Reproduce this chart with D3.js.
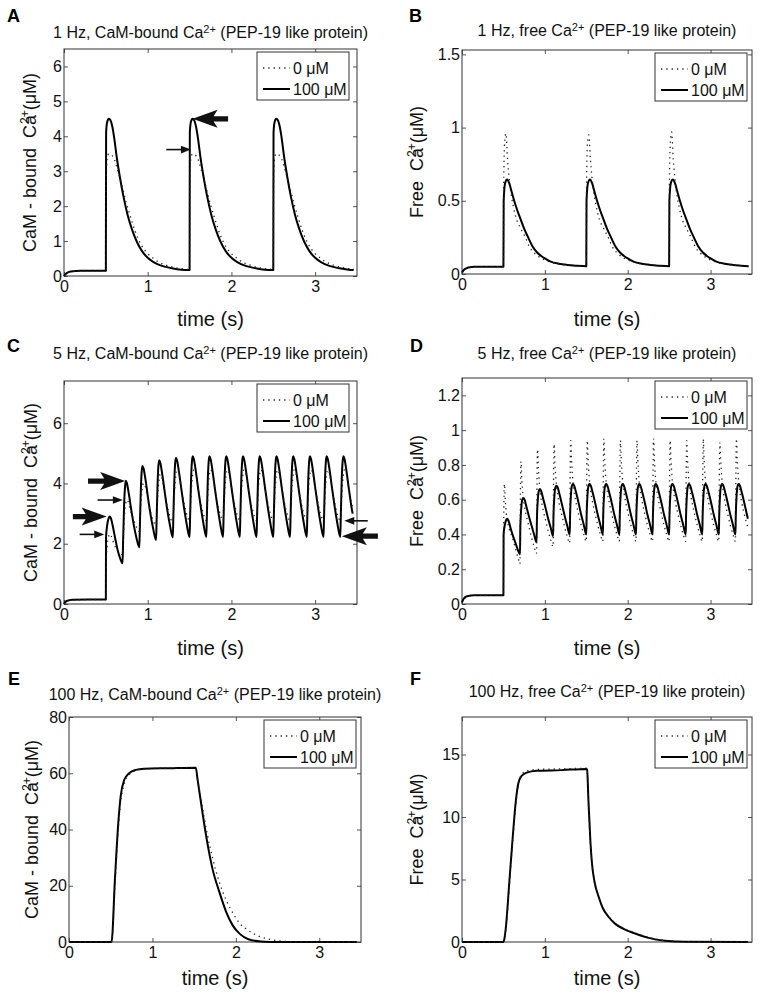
<!DOCTYPE html>
<html>
<head>
<meta charset="utf-8">
<script src="https://cdn.jsdelivr.net/npm/d3@7"></script>
<style>
body { margin: 0; background: #fff; }
svg { font-family: "Liberation Sans", Arial, Helvetica, sans-serif; }
</style>
</head>
<body>
<svg id="fig" width="762" height="1000"></svg>
<script>
// values: [time (s), concentration (uM)]
var xTicks = [0, 1, 2, 3];
var legendNames = ["0 \u03bcM", "100 \u03bcM"];

// A: 1 Hz, CaM-bound
var aDotted = [[0,0],[0.03,0.07],[0.08,0.12],[0.2,0.145],[0.5,0.15],
  [0.503,2.6],[0.515,3.35],[0.535,3.5],[0.56,3.48],[0.6,3.35],[0.63,3.12],[0.69,2.6],[0.75,2.05],[0.8,1.65],[0.85,1.28],[0.92,0.9],[1.0,0.64],[1.07,0.5],[1.13,0.4],[1.21,0.32],[1.31,0.25],[1.4,0.21],[1.5,0.19],
  [1.503,2.6],[1.515,3.35],[1.535,3.5],[1.56,3.48],[1.6,3.35],[1.63,3.12],[1.69,2.6],[1.75,2.05],[1.8,1.65],[1.85,1.28],[1.92,0.9],[2.0,0.64],[2.07,0.5],[2.13,0.4],[2.21,0.32],[2.31,0.25],[2.4,0.21],[2.5,0.19],
  [2.503,2.6],[2.515,3.35],[2.535,3.5],[2.56,3.48],[2.6,3.35],[2.63,3.12],[2.69,2.6],[2.75,2.05],[2.8,1.65],[2.85,1.28],[2.92,0.9],[3.0,0.64],[3.07,0.5],[3.13,0.4],[3.21,0.32],[3.31,0.25],[3.4,0.21],[3.46,0.2]];
var aSolid = [[0,0],[0.03,0.08],[0.08,0.13],[0.2,0.15],[0.5,0.15],
  [0.503,4.1],[0.515,4.4],[0.535,4.5],[0.555,4.46],[0.575,4.3],[0.6,3.95],[0.63,3.4],[0.67,2.8],[0.71,2.28],[0.76,1.75],[0.81,1.35],[0.87,0.98],[0.93,0.72],[1.0,0.52],[1.07,0.4],[1.17,0.29],[1.29,0.22],[1.4,0.18],[1.5,0.17],
  [1.503,4.1],[1.515,4.4],[1.535,4.5],[1.555,4.46],[1.575,4.3],[1.6,3.95],[1.63,3.4],[1.67,2.8],[1.71,2.28],[1.76,1.75],[1.81,1.35],[1.87,0.98],[1.93,0.72],[2.0,0.52],[2.07,0.4],[2.17,0.29],[2.29,0.22],[2.4,0.18],[2.5,0.17],
  [2.503,4.1],[2.515,4.4],[2.535,4.5],[2.555,4.46],[2.575,4.3],[2.6,3.95],[2.63,3.4],[2.67,2.8],[2.71,2.28],[2.76,1.75],[2.81,1.35],[2.87,0.98],[2.93,0.72],[3.0,0.52],[3.07,0.4],[3.17,0.29],[3.29,0.22],[3.4,0.18],[3.46,0.17]];
var aArrows = [[1.96,1.536,4.5,1],[1.222,1.516,3.62,0]]; // [tail t, tip t, value, big]
var aTicks = [0,1,2,3,4,5,6];

// B: 1 Hz, free
var bDotted = [[0,0.005],[0.03,0.028],[0.08,0.043],[0.15,0.05],[0.5,0.05],
  [0.503,0.6],[0.515,0.9],[0.53,0.96],[0.55,0.78],[0.58,0.6],[0.62,0.46],[0.66,0.37],[0.7,0.32],[0.76,0.255],[0.82,0.18],[0.88,0.14],[0.95,0.11],[1.05,0.085],[1.2,0.066],[1.35,0.058],[1.5,0.055],
  [1.503,0.6],[1.515,0.9],[1.53,0.95],[1.55,0.78],[1.58,0.6],[1.62,0.46],[1.66,0.37],[1.7,0.32],[1.76,0.255],[1.82,0.18],[1.88,0.14],[1.95,0.11],[2.05,0.085],[2.2,0.066],[2.35,0.058],[2.5,0.055],
  [2.503,0.6],[2.515,0.9],[2.53,0.97],[2.55,0.78],[2.58,0.6],[2.62,0.46],[2.66,0.37],[2.7,0.32],[2.76,0.255],[2.82,0.18],[2.88,0.14],[2.95,0.11],[3.05,0.085],[3.2,0.066],[3.35,0.058],[3.46,0.055]];
var bSolid = [[0,0.01],[0.03,0.032],[0.08,0.045],[0.15,0.05],[0.5,0.05],
  [0.503,0.5],[0.52,0.62],[0.545,0.645],[0.57,0.62],[0.6,0.56],[0.63,0.5],[0.67,0.43],[0.71,0.37],[0.75,0.31],[0.79,0.26],[0.85,0.19],[0.91,0.145],[0.99,0.11],[1.07,0.085],[1.17,0.07],[1.27,0.062],[1.37,0.057],[1.5,0.053],
  [1.503,0.5],[1.52,0.62],[1.545,0.645],[1.57,0.62],[1.6,0.56],[1.63,0.5],[1.67,0.43],[1.71,0.37],[1.75,0.31],[1.79,0.26],[1.85,0.19],[1.91,0.145],[1.99,0.11],[2.07,0.085],[2.17,0.07],[2.27,0.062],[2.37,0.057],[2.5,0.053],
  [2.503,0.5],[2.52,0.62],[2.545,0.645],[2.57,0.62],[2.6,0.56],[2.63,0.5],[2.67,0.43],[2.71,0.37],[2.75,0.31],[2.79,0.26],[2.85,0.19],[2.91,0.145],[2.99,0.11],[3.07,0.085],[3.17,0.07],[3.27,0.062],[3.37,0.057],[3.46,0.053]];
var bTicks = [0,0.5,1,1.5];

// C: 5 Hz, CaM-bound
var cDotted = [[0,0],[0.03,0.08],[0.1,0.13],[0.3,0.15],[0.5,0.15],
  [0.503,1.2],[0.515,1.9],[0.53,2.2],[0.548,2.32],[0.565,2.25],[0.59,2.05],[0.62,1.85],[0.65,1.73],[0.68,1.66],[0.7,1.63],
  [0.708,2.1],[0.72,2.8],[0.735,3.3],[0.75,3.45],[0.765,3.4],[0.79,3.15],[0.82,2.9],[0.85,2.66],[0.875,2.5],[0.9,2.4],
  [0.908,2.8],[0.92,3.4],[0.935,3.85],[0.95,4.0],[0.965,3.95],[0.99,3.65],[1.02,3.2],[1.05,2.9],[1.075,2.7],[1.1,2.62],
  [1.108,2.95],[1.12,3.6],[1.135,4.1],[1.15,4.3],[1.165,4.25],[1.19,3.9],[1.22,3.42],[1.25,3.05],[1.275,2.82],[1.3,2.72],
  [1.308,3.0],[1.32,3.7],[1.335,4.25],[1.35,4.45],[1.365,4.4],[1.39,4.05],[1.42,3.55],[1.45,3.15],[1.475,2.9],[1.5,2.76],
  [1.508,3.0],[1.52,3.7],[1.535,4.25],[1.55,4.45],[1.565,4.4],[1.59,4.05],[1.62,3.55],[1.65,3.15],[1.675,2.9],[1.7,2.76],
  [1.708,3.0],[1.72,3.7],[1.735,4.25],[1.75,4.45],[1.765,4.4],[1.79,4.05],[1.82,3.55],[1.85,3.15],[1.875,2.9],[1.9,2.76],
  [1.908,3.0],[1.92,3.7],[1.935,4.25],[1.95,4.45],[1.965,4.4],[1.99,4.05],[2.02,3.55],[2.05,3.15],[2.075,2.9],[2.1,2.76],
  [2.108,3.0],[2.12,3.7],[2.135,4.25],[2.15,4.45],[2.165,4.4],[2.19,4.05],[2.22,3.55],[2.25,3.15],[2.275,2.9],[2.3,2.76],
  [2.308,3.0],[2.32,3.7],[2.335,4.25],[2.35,4.45],[2.365,4.4],[2.39,4.05],[2.42,3.55],[2.45,3.15],[2.475,2.9],[2.5,2.76],
  [2.508,3.0],[2.52,3.7],[2.535,4.25],[2.55,4.45],[2.565,4.4],[2.59,4.05],[2.62,3.55],[2.65,3.15],[2.675,2.9],[2.7,2.76],
  [2.708,3.0],[2.72,3.7],[2.735,4.25],[2.75,4.45],[2.765,4.4],[2.79,4.05],[2.82,3.55],[2.85,3.15],[2.875,2.9],[2.9,2.76],
  [2.908,3.0],[2.92,3.7],[2.935,4.25],[2.95,4.45],[2.965,4.4],[2.99,4.05],[3.02,3.55],[3.05,3.15],[3.075,2.9],[3.1,2.76],
  [3.108,3.0],[3.12,3.7],[3.135,4.25],[3.15,4.45],[3.165,4.4],[3.19,4.05],[3.22,3.55],[3.25,3.15],[3.275,2.9],[3.3,2.76],
  [3.308,3.0],[3.32,3.7],[3.335,4.25],[3.35,4.45],[3.365,4.4],[3.39,4.05],[3.42,3.55],[3.448,3.2]];
var cSolid = [[0,0],[0.03,0.1],[0.1,0.14],[0.3,0.15],[0.5,0.15],
  [0.502,2.2],[0.515,2.6],[0.53,2.82],[0.545,2.9],[0.56,2.85],[0.58,2.62],[0.61,2.2],[0.64,1.8],[0.67,1.52],[0.7,1.35],
  [0.706,2.1],[0.718,3.3],[0.728,3.85],[0.738,4.09],[0.75,4.02],[0.775,3.65],[0.805,3.1],[0.835,2.6],[0.865,2.2],[0.9,1.88],
  [0.906,2.55],[0.918,3.8],[0.928,4.4],[0.938,4.58],[0.95,4.5],[0.975,4.1],[1.005,3.5],[1.035,2.95],[1.065,2.5],[1.1,2.12],
  [1.106,2.75],[1.118,4.0],[1.128,4.6],[1.138,4.77],[1.15,4.69],[1.175,4.28],[1.205,3.68],[1.235,3.1],[1.265,2.62],[1.3,2.21],
  [1.306,2.85],[1.318,4.1],[1.328,4.68],[1.338,4.85],[1.35,4.77],[1.375,4.35],[1.405,3.75],[1.435,3.17],[1.465,2.66],[1.5,2.22],
  [1.506,2.85],[1.518,4.15],[1.528,4.72],[1.538,4.9],[1.55,4.82],[1.575,4.4],[1.605,3.78],[1.635,3.2],[1.665,2.68],[1.7,2.22],
  [1.706,2.85],[1.718,4.15],[1.728,4.72],[1.738,4.9],[1.75,4.82],[1.775,4.4],[1.805,3.78],[1.835,3.2],[1.865,2.68],[1.9,2.22],
  [1.906,2.85],[1.918,4.15],[1.928,4.72],[1.938,4.9],[1.95,4.82],[1.975,4.4],[2.005,3.78],[2.035,3.2],[2.065,2.68],[2.1,2.22],
  [2.106,2.85],[2.118,4.15],[2.128,4.72],[2.138,4.9],[2.15,4.82],[2.175,4.4],[2.205,3.78],[2.235,3.2],[2.265,2.68],[2.3,2.22],
  [2.306,2.85],[2.318,4.15],[2.328,4.72],[2.338,4.9],[2.35,4.82],[2.375,4.4],[2.405,3.78],[2.435,3.2],[2.465,2.68],[2.5,2.22],
  [2.506,2.85],[2.518,4.15],[2.528,4.72],[2.538,4.9],[2.55,4.82],[2.575,4.4],[2.605,3.78],[2.635,3.2],[2.665,2.68],[2.7,2.22],
  [2.706,2.85],[2.718,4.15],[2.728,4.72],[2.738,4.9],[2.75,4.82],[2.775,4.4],[2.805,3.78],[2.835,3.2],[2.865,2.68],[2.9,2.22],
  [2.906,2.85],[2.918,4.15],[2.928,4.72],[2.938,4.9],[2.95,4.82],[2.975,4.4],[3.005,3.78],[3.035,3.2],[3.065,2.68],[3.1,2.22],
  [3.106,2.85],[3.118,4.15],[3.128,4.72],[3.138,4.9],[3.15,4.82],[3.175,4.4],[3.205,3.78],[3.235,3.2],[3.265,2.68],[3.3,2.22],
  [3.306,2.85],[3.318,4.15],[3.328,4.72],[3.338,4.9],[3.35,4.82],[3.375,4.4],[3.405,3.78],[3.435,3.2],[3.448,3.0]];
var cArrows = [[0.106,0.51,2.9,1],[0.187,0.481,2.31,0],[0.287,0.731,4.08,1],[0.401,0.703,3.45,0],[3.629,3.348,2.76,0],[3.75,3.319,2.25,1]];
var cTicks = [0,2,4,6];

// D: 5 Hz, free
var dDotted = [[0,0.005],[0.02,0.025],[0.06,0.04],[0.15,0.05],[0.5,0.05],
  [0.503,0.45],[0.512,0.69],[0.522,0.6],[0.535,0.52],[0.55,0.47],[0.57,0.43],[0.61,0.38],[0.65,0.31],[0.68,0.26],[0.7,0.23],
  [0.703,0.5],[0.712,0.82],[0.722,0.72],[0.735,0.63],[0.75,0.57],[0.78,0.5],[0.81,0.44],[0.84,0.38],[0.87,0.33],[0.9,0.29],
  [0.903,0.55],[0.912,0.89],[0.922,0.78],[0.935,0.69],[0.95,0.62],[0.98,0.54],[1.01,0.48],[1.04,0.42],[1.07,0.37],[1.1,0.33],
  [1.103,0.57],[1.112,0.92],[1.122,0.81],[1.135,0.71],[1.15,0.645],[1.18,0.56],[1.21,0.5],[1.24,0.44],[1.27,0.39],[1.3,0.35],
  [1.303,0.58],[1.312,0.94],[1.322,0.83],[1.335,0.73],[1.35,0.66],[1.38,0.575],[1.41,0.51],[1.44,0.45],[1.47,0.4],[1.5,0.36],
  [1.503,0.58],[1.512,0.94],[1.522,0.83],[1.535,0.73],[1.55,0.66],[1.58,0.575],[1.61,0.51],[1.64,0.45],[1.67,0.4],[1.7,0.36],
  [1.703,0.58],[1.712,0.95],[1.722,0.83],[1.735,0.73],[1.75,0.66],[1.78,0.575],[1.81,0.51],[1.84,0.45],[1.87,0.4],[1.9,0.36],
  [1.903,0.58],[1.912,0.94],[1.922,0.83],[1.935,0.73],[1.95,0.66],[1.98,0.575],[2.01,0.51],[2.04,0.45],[2.07,0.4],[2.1,0.36],
  [2.103,0.58],[2.112,0.94],[2.122,0.83],[2.135,0.73],[2.15,0.66],[2.18,0.575],[2.21,0.51],[2.24,0.45],[2.27,0.4],[2.3,0.36],
  [2.303,0.58],[2.312,0.95],[2.322,0.83],[2.335,0.73],[2.35,0.66],[2.38,0.575],[2.41,0.51],[2.44,0.45],[2.47,0.4],[2.5,0.36],
  [2.503,0.58],[2.512,0.94],[2.522,0.83],[2.535,0.73],[2.55,0.66],[2.58,0.575],[2.61,0.51],[2.64,0.45],[2.67,0.4],[2.7,0.36],
  [2.703,0.58],[2.712,0.94],[2.722,0.83],[2.735,0.73],[2.75,0.66],[2.78,0.575],[2.81,0.51],[2.84,0.45],[2.87,0.4],[2.9,0.36],
  [2.903,0.58],[2.912,0.95],[2.922,0.83],[2.935,0.73],[2.95,0.66],[2.98,0.575],[3.01,0.51],[3.04,0.45],[3.07,0.4],[3.1,0.36],
  [3.103,0.58],[3.112,0.93],[3.122,0.83],[3.135,0.73],[3.15,0.66],[3.18,0.575],[3.21,0.51],[3.24,0.45],[3.27,0.4],[3.3,0.36],
  [3.303,0.58],[3.312,0.95],[3.322,0.83],[3.335,0.73],[3.35,0.66],[3.38,0.575],[3.41,0.51],[3.45,0.44]];
var dSolid = [[0,0.01],[0.02,0.03],[0.06,0.045],[0.15,0.05],[0.5,0.05],
  [0.502,0.4],[0.515,0.45],[0.53,0.48],[0.545,0.49],[0.56,0.48],[0.59,0.43],[0.62,0.385],[0.65,0.345],[0.675,0.31],[0.7,0.285],
  [0.704,0.44],[0.715,0.55],[0.727,0.6],[0.74,0.61],[0.755,0.6],[0.78,0.555],[0.81,0.5],[0.84,0.45],[0.87,0.4],[0.9,0.355],
  [0.904,0.48],[0.915,0.6],[0.927,0.65],[0.94,0.66],[0.955,0.65],[0.98,0.605],[1.01,0.55],[1.04,0.49],[1.07,0.44],[1.1,0.39],
  [1.104,0.5],[1.115,0.62],[1.127,0.67],[1.14,0.68],[1.155,0.67],[1.18,0.625],[1.21,0.565],[1.24,0.505],[1.27,0.45],[1.3,0.4],
  [1.304,0.5],[1.315,0.63],[1.327,0.68],[1.34,0.69],[1.355,0.68],[1.38,0.635],[1.41,0.575],[1.44,0.51],[1.47,0.455],[1.5,0.4],
  [1.504,0.5],[1.515,0.63],[1.527,0.68],[1.54,0.69],[1.555,0.68],[1.58,0.635],[1.61,0.575],[1.64,0.51],[1.67,0.455],[1.7,0.4],
  [1.704,0.5],[1.715,0.63],[1.727,0.68],[1.74,0.69],[1.755,0.68],[1.78,0.635],[1.81,0.575],[1.84,0.51],[1.87,0.455],[1.9,0.4],
  [1.904,0.5],[1.915,0.63],[1.927,0.68],[1.94,0.69],[1.955,0.68],[1.98,0.635],[2.01,0.575],[2.04,0.51],[2.07,0.455],[2.1,0.4],
  [2.104,0.5],[2.115,0.63],[2.127,0.68],[2.14,0.69],[2.155,0.68],[2.18,0.635],[2.21,0.575],[2.24,0.51],[2.27,0.455],[2.3,0.4],
  [2.304,0.5],[2.315,0.63],[2.327,0.68],[2.34,0.69],[2.355,0.68],[2.38,0.635],[2.41,0.575],[2.44,0.51],[2.47,0.455],[2.5,0.4],
  [2.504,0.5],[2.515,0.63],[2.527,0.68],[2.54,0.69],[2.555,0.68],[2.58,0.635],[2.61,0.575],[2.64,0.51],[2.67,0.455],[2.7,0.4],
  [2.704,0.5],[2.715,0.63],[2.727,0.68],[2.74,0.69],[2.755,0.68],[2.78,0.635],[2.81,0.575],[2.84,0.51],[2.87,0.455],[2.9,0.4],
  [2.904,0.5],[2.915,0.63],[2.927,0.68],[2.94,0.69],[2.955,0.68],[2.98,0.635],[3.01,0.575],[3.04,0.51],[3.07,0.455],[3.1,0.4],
  [3.104,0.5],[3.115,0.63],[3.127,0.68],[3.14,0.69],[3.155,0.68],[3.18,0.635],[3.21,0.575],[3.24,0.51],[3.27,0.455],[3.3,0.4],
  [3.304,0.5],[3.315,0.63],[3.327,0.68],[3.34,0.69],[3.355,0.68],[3.38,0.635],[3.41,0.575],[3.45,0.49]];
var dTicks = [0,0.2,0.4,0.6,0.8,1,1.2];

// E: 100 Hz, CaM-bound
var eDotted = [[0,0],[0.5,0],[0.51,0],[0.55,20],[0.59,40],[0.62,50],[0.66,56],[0.72,59.5],[0.8,61],[0.9,61.6],[1.2,61.8],[1.52,62],
  [1.54,58],[1.57,53],[1.61,46],[1.66,38],[1.72,30],[1.8,21.5],[1.89,14.5],[1.97,10],[2.05,6.5],[2.13,4.5],[2.21,3],[2.3,1.8],[2.37,1.2],[2.45,0.7],[2.53,0.4],[2.7,0.1],[3.45,0]];
var eSolid = [[0,0],[0.5,0],[0.51,0],[0.55,22],[0.59,42],[0.62,52],[0.66,57.5],[0.72,60],[0.8,61.2],[0.9,61.6],[1.2,61.8],[1.52,62],
  [1.54,58],[1.57,52],[1.61,44],[1.66,35],[1.72,26],[1.8,18],[1.88,11],[1.96,6],[2.05,2.8],[2.15,1.0],[2.3,0.2],[2.5,0],[3.45,0]];
var eTicks = [0,20,40,60,80];

// F: 100 Hz, free
var fDotted = [[0,0],[0.5,0],[0.51,0.2],[0.53,1.0],[0.57,4.4],[0.61,7.9],[0.65,11],[0.68,12.6],[0.72,13.4],[0.78,13.7],[0.9,13.8],[1.2,13.85],[1.5,13.9],
  [1.51,13.8],[1.525,11.3],[1.55,7.8],[1.57,6.1],[1.6,4.8],[1.65,3.6],[1.7,2.75],[1.77,2.05],[1.85,1.5],[1.95,1.1],[2.08,0.75],[2.24,0.4],[2.45,0.12],[2.7,0.03],[3.45,0]];
var fSolid = [[0,0],[0.5,0],[0.51,0.2],[0.53,1.2],[0.57,4.7],[0.61,8.2],[0.65,11.3],[0.68,12.7],[0.72,13.3],[0.78,13.55],[0.9,13.7],[1.2,13.75],[1.5,13.85],
  [1.51,13.8],[1.525,11.5],[1.55,8],[1.57,6.2],[1.6,4.8],[1.65,3.6],[1.7,2.7],[1.77,2.0],[1.85,1.45],[1.95,1.05],[2.08,0.7],[2.24,0.35],[2.45,0.1],[2.7,0.02],[3.45,0]];
var fTicks = [0,5,10,15];

var boundLabel = ["CaM - bound\u00a0\u00a0Ca", "2+", "(\u03bcM)"];
var freeLabel = ["Free\u00a0\u00a0Ca", "2+", "(\u03bcM)"];

var panels = [
  {letter:"A", lx:7, ly:22, title:["1 Hz, CaM-bound Ca","2+"," (PEP-19 like protein)"], ty:38,
   box:{l:64,r:357,t:49,b:276}, yMax:6.5, yt:aTicks, dotted:aDotted, solid:aSolid, arrows:aArrows,
   ylab:boundLabel, yx:36, xy:326, lg:8},
  {letter:"B", lx:409, ly:22, title:["1 Hz, free Ca","2+"," (PEP-19 like protein)"], ty:36,
   box:{l:462,r:752,t:50,b:274}, yMax:1.53, yt:bTicks, dotted:bDotted, solid:bSolid, arrows:[],
   ylab:freeLabel, yx:423, xy:326, lg:5},
  {letter:"C", lx:7, ly:352, title:["5 Hz, CaM-bound Ca","2+"," (PEP-19 like protein)"], ty:359,
   box:{l:64,r:357,t:381,b:604}, yMax:7.4, yt:cTicks, dotted:cDotted, solid:cSolid, arrows:cArrows,
   ylab:boundLabel, yx:37, xy:655, lg:8},
  {letter:"D", lx:410, ly:352, title:["5 Hz, free Ca","2+"," (PEP-19 like protein)"], ty:359,
   box:{l:462,r:752,t:378,b:604}, yMax:1.3, yt:dTicks, dotted:dDotted, solid:dSolid, arrows:[],
   ylab:freeLabel, yx:423, xy:655, lg:5},
  {letter:"E", lx:8, ly:685, title:["100 Hz, CaM-bound Ca","2+"," (PEP-19 like protein)"], ty:700,
   box:{l:69,r:361,t:717,b:942}, yMax:80, yt:eTicks, dotted:eDotted, solid:eSolid, arrows:[],
   ylab:boundLabel, yx:38, xy:985, lg:5},
  {letter:"F", lx:410, ly:685, title:["100 Hz, free Ca","2+"," (PEP-19 like protein)"], ty:697,
   box:{l:462,r:752,t:717,b:942}, yMax:18, yt:fTicks, dotted:fDotted, solid:fSolid, arrows:[],
   ylab:freeLabel, yx:423, xy:985, lg:5}
];

var svg = d3.select("#fig");
svg.append("rect").attr("width", 762).attr("height", 1000).attr("fill", "#fff");

// text with a superscript "2+" in the middle
function richText(sel, parts, size, supSize, back, rise) {
  sel.append("tspan").text(parts[0]);
  sel.append("tspan").attr("font-size", supSize).attr("dx", back).attr("dy", -size * rise).text(parts[1]);
  sel.append("tspan").attr("dy", size * rise).text(parts[2]);
}

function arrow(g, x1, x2, y, big) {
  var s = x2 > x1 ? 1 : -1;
  if (big) {
    var pts = [[x2, y], [x2 - s*25, y - 9], [x2 - s*21, y - 2.6], [x1, y - 2.6],
               [x1, y + 2.6], [x2 - s*21, y + 2.6], [x2 - s*25, y + 9]];
    g.append("polygon").attr("points", pts.join(" ")).attr("fill", "#111");
  } else {
    g.append("line").attr("x1", x1).attr("x2", x2 - s*8).attr("y1", y).attr("y2", y)
      .attr("stroke", "#111").attr("stroke-width", 1.6);
    g.append("polygon").attr("points", [[x2, y], [x2 - s*10, y - 3.8], [x2 - s*10, y + 3.8]].join(" "))
      .attr("fill", "#111");
  }
}

panels.forEach(function(p) {
  var b = p.box;
  var x = d3.scaleLinear().domain([0, 3.5]).range([b.l, b.r]);
  var y = d3.scaleLinear().domain([0, p.yMax]).range([b.b, b.t]);
  var g = svg.append("g");

  g.append("text").attr("x", p.lx).attr("y", p.ly).attr("font-size", 18).attr("font-weight", "bold")
    .text(p.letter);

  var tt = g.append("text").attr("x", (b.l + b.r) / 2).attr("y", p.ty).attr("text-anchor", "middle")
    .attr("font-size", 16).attr("fill", "#111");
  richText(tt, p.title, 16, 11, 0, 0.3);

  // axes, ticks pointing inward on all four sides
  var fmt = function(d) { return String(+d.toFixed(2)); };
  var ax = [
    g.append("g").attr("transform", "translate(0," + b.b + ")")
      .call(d3.axisBottom(x).tickValues(xTicks).tickFormat(fmt).tickSizeInner(-4).tickSizeOuter(0).tickPadding(5)),
    g.append("g").attr("transform", "translate(0," + b.t + ")")
      .call(d3.axisTop(x).tickValues(xTicks).tickFormat("").tickSizeInner(-4).tickSizeOuter(0)),
    g.append("g").attr("transform", "translate(" + b.l + ",0)")
      .call(d3.axisLeft(y).tickValues(p.yt).tickFormat(fmt).tickSizeInner(-4).tickSizeOuter(0).tickPadding(2)),
    g.append("g").attr("transform", "translate(" + b.r + ",0)")
      .call(d3.axisRight(y).tickValues(p.yt).tickFormat("").tickSizeInner(-4).tickSizeOuter(0))
  ];
  ax.forEach(function(a) {
    a.attr("font-family", null).attr("font-size", 16);
    a.select(".domain").remove();
    a.selectAll("line").attr("stroke", "#555");
    a.selectAll("text").attr("fill", "#111");
  });

  g.append("rect").attr("x", b.l).attr("y", b.t).attr("width", b.r - b.l).attr("height", b.b - b.t)
    .attr("fill", "none").attr("stroke", "#333").attr("stroke-width", 1);

  var line = d3.line().x(function(d) { return x(d[0]); }).y(function(d) { return y(d[1]); })
    .curve(d3.curveMonotoneX);
  g.append("path").attr("d", line(p.solid)).attr("fill", "none").attr("stroke", "#000")
    .attr("stroke-width", 2).attr("stroke-linejoin", "round");
  g.append("path").attr("d", line(p.dotted)).attr("fill", "none").attr("stroke", "#222")
    .attr("stroke-width", 1.3).attr("stroke-dasharray", "1.3,4");

  p.arrows.forEach(function(a) { arrow(g, x(a[0]), x(a[1]), y(a[2]), a[3]); });

  // legend
  var lw = 92, lh = 48, lx = b.r - p.lg - lw, ly = b.t + 3;
  var lgd = g.append("g").attr("transform", "translate(" + lx + "," + ly + ")");
  lgd.append("rect").attr("width", lw).attr("height", lh).attr("fill", "#fff").attr("stroke", "#333");
  legendNames.forEach(function(name, i) {
    var yy = i === 0 ? 16 : 37;
    var l = lgd.append("line").attr("x1", 6).attr("x2", 33).attr("y1", yy).attr("y2", yy);
    if (i === 0) l.attr("stroke", "#222").attr("stroke-width", 1.3).attr("stroke-dasharray", "1.3,4");
    else l.attr("stroke", "#000").attr("stroke-width", 2);
    lgd.append("text").attr("x", 36).attr("y", yy + 6).attr("font-size", 16).attr("fill", "#111").text(name);
  });

  g.append("text").attr("x", (b.l + b.r) / 2).attr("y", p.xy).attr("text-anchor", "middle")
    .attr("font-size", 20).attr("fill", "#111").text("time (s)");

  var yl = g.append("text").attr("transform", "translate(" + p.yx + "," + (b.t + b.b) / 2 + ") rotate(-90)")
    .attr("text-anchor", "middle").attr("font-size", 18).attr("fill", "#111");
  richText(yl, p.ylab, 18, 12, -9, 0.4);
});
</script>
</body>
</html>
